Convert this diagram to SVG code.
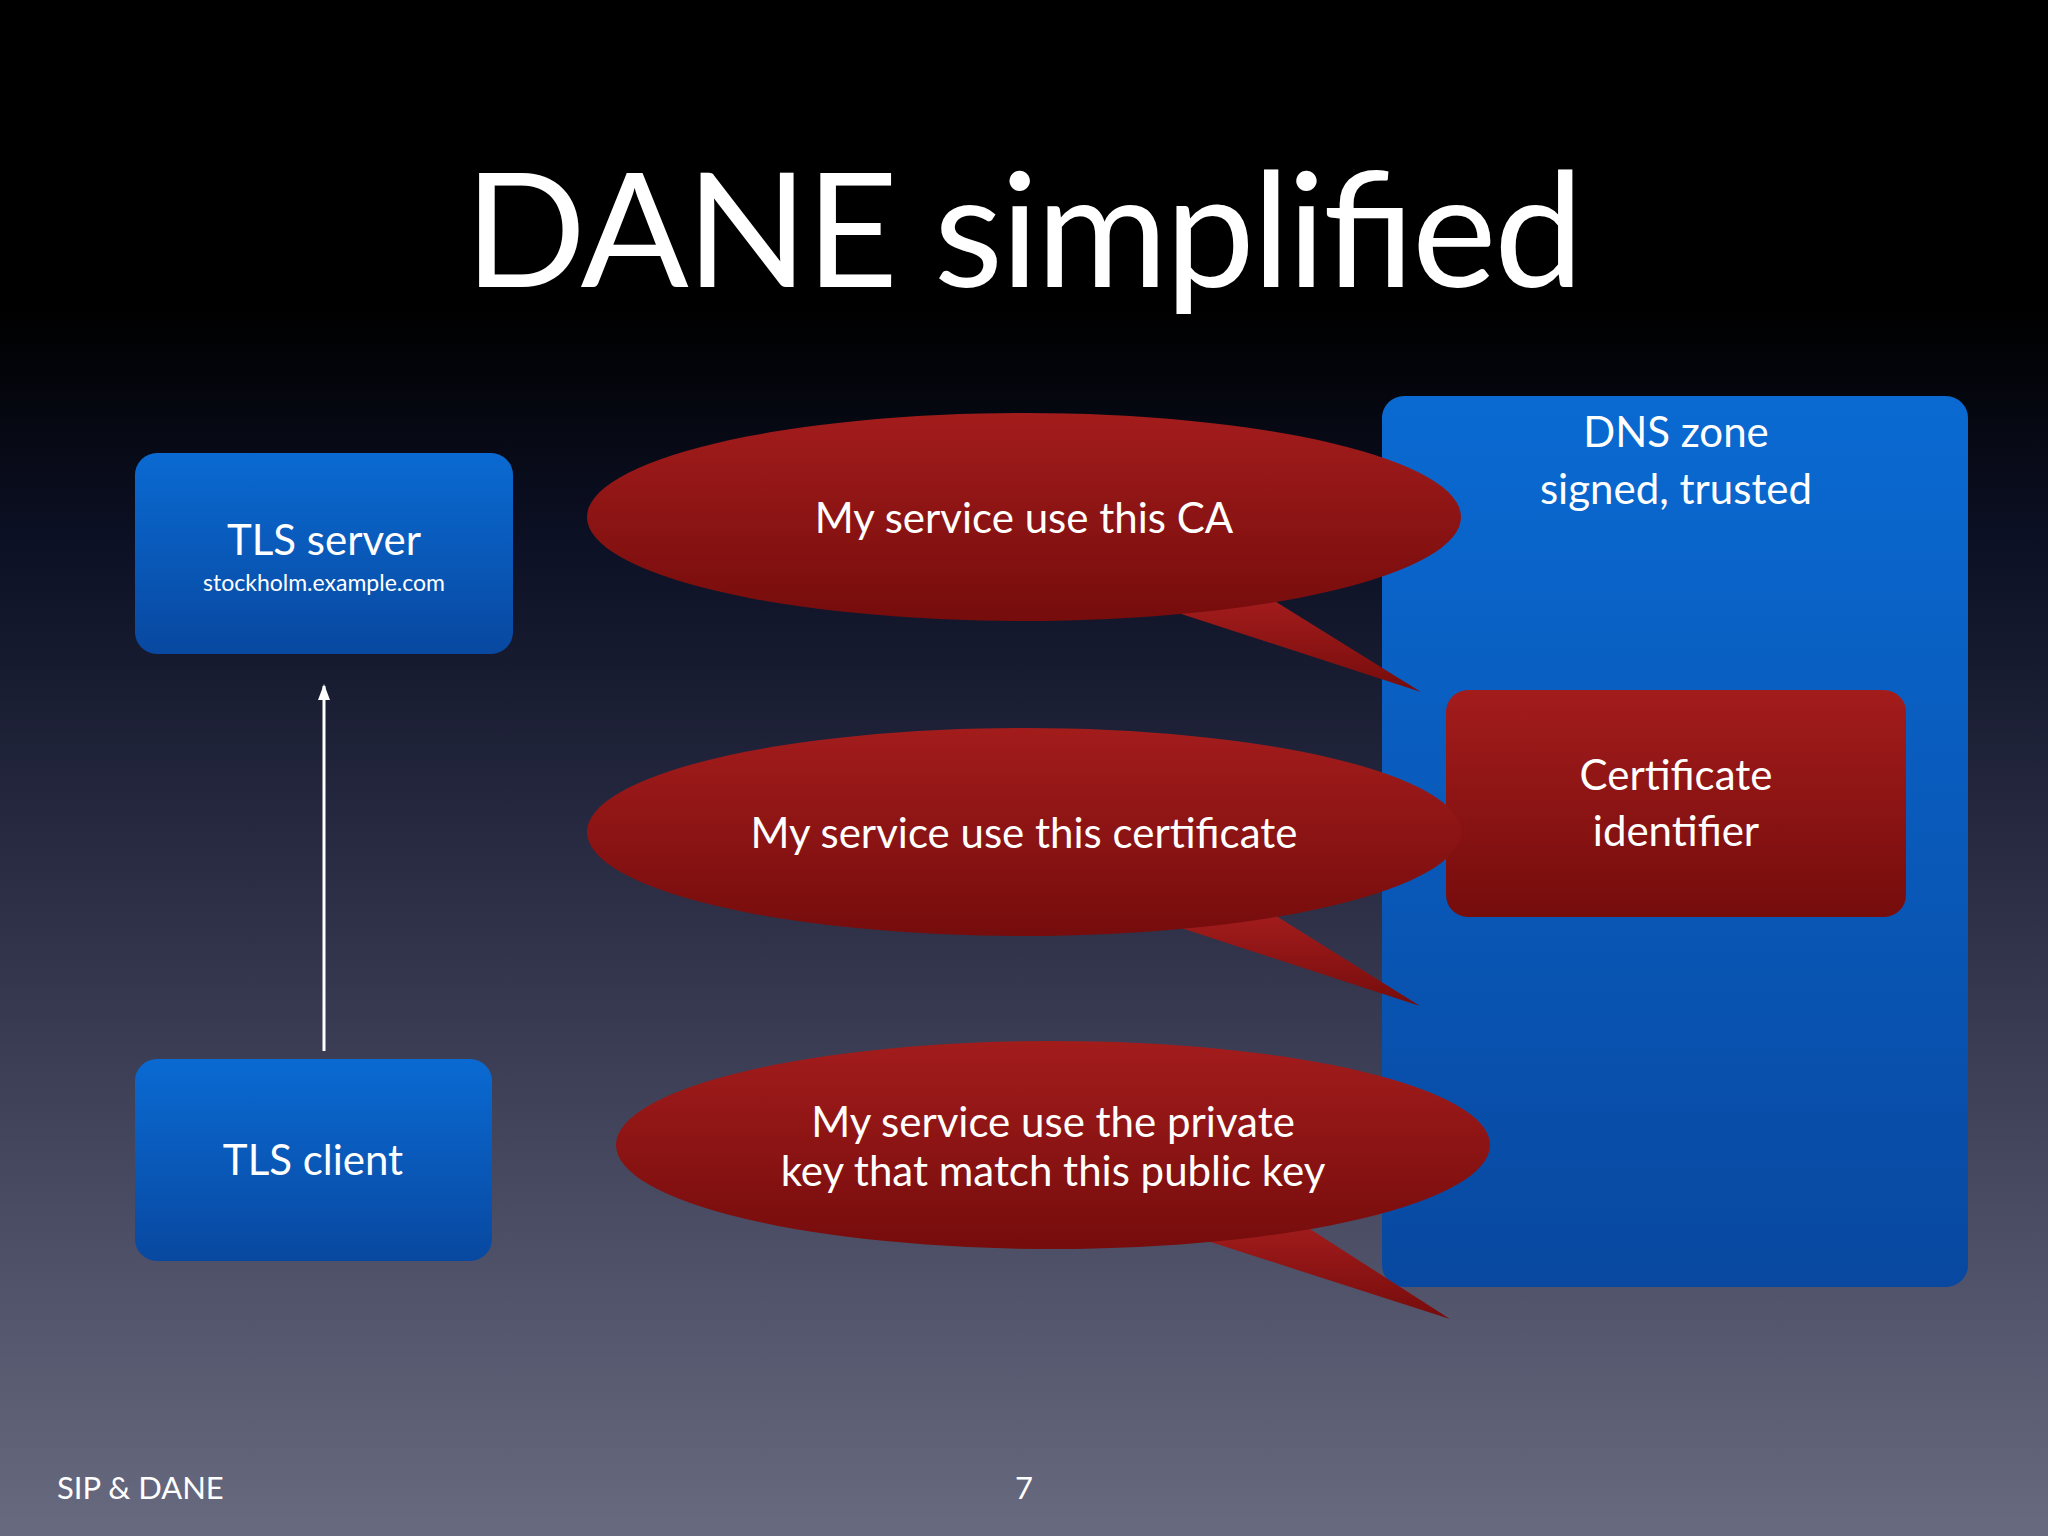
<svg xmlns="http://www.w3.org/2000/svg" width="2048" height="1536" viewBox="0 0 2048 1536">
<defs>
<linearGradient id="bg" x1="0" y1="0" x2="0" y2="1">
<stop offset="0" stop-color="#000"/><stop offset="0.2" stop-color="#000"/><stop offset="0.35" stop-color="#0c1024"/><stop offset="0.6" stop-color="#2e3148"/><stop offset="1" stop-color="#686a80"/>
</linearGradient>
<linearGradient id="blue" x1="0" y1="0" x2="0" y2="1"><stop offset="0" stop-color="#0a6ad2"/><stop offset="1" stop-color="#0848a0"/></linearGradient>
<linearGradient id="red" x1="0" y1="0" x2="0" y2="1"><stop offset="0" stop-color="#a31c1c"/><stop offset="1" stop-color="#760c0c"/></linearGradient>
<marker id="ah" markerWidth="16" markerHeight="12" refX="14" refY="6" orient="auto" markerUnits="userSpaceOnUse" viewBox="0 0 16 12"><path d="M0,0 L16,6 L0,12 Z" fill="#fff"/></marker>
</defs>
<style>
text{font-family:Lato,"Open Sans","Liberation Sans",sans-serif;fill:#fff;text-anchor:middle}
.box{fill:url(#blue)}
.bub{fill:url(#red)}
.l{font-size:42px}
</style>
<rect width="2048" height="1536" fill="url(#bg)"/>
<text x="1024" y="287" font-size="160" textLength="1119">DANE simplified</text>
<g id="dns"><rect class="box" x="1382" y="396" width="586" height="891" rx="22"/>
<text class="l" x="1676" y="447">DNS zone</text><text class="l" x="1676" y="504">signed, trusted</text></g>
<g id="cert"><rect x="1446" y="690" width="460" height="227" rx="22" fill="url(#red)"/>
<text class="l" x="1676" y="790">Certificate</text><text class="l" x="1676" y="846">identifier</text></g>
<g id="server"><rect class="box" x="135" y="453" width="378" height="201" rx="22"/>
<text class="l" x="324" y="555">TLS server</text><text x="324" y="591" font-size="23">stockholm.example.com</text></g>
<g id="client"><rect class="box" x="135" y="1059" width="357" height="202" rx="22"/>
<text class="l" x="313" y="1175">TLS client</text></g>
<g id="b1"><path class="bub" d="M1169,610 L1421,692 L1273,600 Z"/><ellipse class="bub" cx="1024" cy="517" rx="437" ry="104"/>
<text class="l" x="1024" y="533">My service use this CA</text></g>
<g id="b2"><path class="bub" d="M1169,924 L1420,1006 L1273,914 Z"/><ellipse class="bub" cx="1024" cy="832" rx="437" ry="104"/>
<text class="l" x="1024" y="848">My service use this certificate</text></g>
<g id="b3"><path class="bub" d="M1195,1237 L1450,1319 L1299,1222 Z"/><ellipse class="bub" cx="1053" cy="1145" rx="437" ry="104"/>
<text class="l" x="1053" y="1137">My service use the private</text><text class="l" x="1053" y="1186">key that match this public key</text></g>
<g id="connectors"><line x1="324" y1="1051" x2="324" y2="686" stroke="#fff" stroke-width="3" marker-end="url(#ah)"/></g>
<text x="57" y="1499" font-size="31" style="text-anchor:start">SIP &amp; DANE</text>
<text x="1024" y="1499" font-size="31">7</text>
</svg>
